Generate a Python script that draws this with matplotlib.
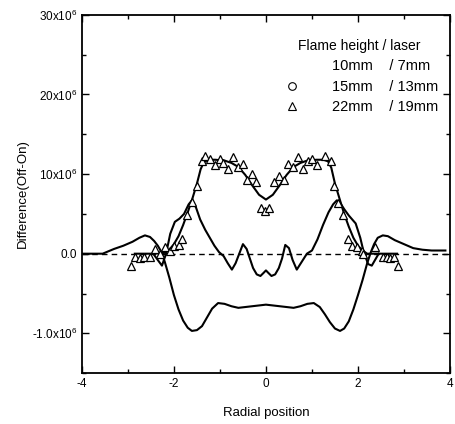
import matplotlib
matplotlib.use("Agg")
import matplotlib.pyplot as plt
from matplotlib.lines import Line2D
from matplotlib.ticker import MultipleLocator

plt.rcParams["font.family"] = ["Liberation Sans Narrow", "Liberation Sans", "DejaVu Sans"]
plt.rcParams["mathtext.fontset"] = "custom"
plt.rcParams["mathtext.rm"] = "Liberation Sans"

# 22mm / 19mm fitted line (x in radial position, y in 1e6)
fit22_x = [-2.85, -2.45, -2.2, -2.1, -2.0, -1.9, -1.8, -1.7, -1.6, -1.5, -1.42, -1.35, -1.25,
           -1.1, -0.9, -0.75, -0.6, -0.45, -0.3, -0.15, 0.0, 0.15, 0.3, 0.45, 0.6, 0.75, 0.9,
           1.1, 1.25, 1.35, 1.42, 1.5, 1.6, 1.7, 1.8, 1.9, 2.0, 2.1, 2.2, 2.45, 2.85]
fit22_y = [0.0, 0.0, 0.1, 0.5, 1.2, 2.2, 3.6, 5.2, 6.9, 8.8, 10.6, 11.5, 11.8,
           11.8, 11.7, 11.4, 10.9, 9.9, 8.6, 7.4, 6.8, 7.4, 8.6, 9.9, 10.9, 11.4, 11.7,
           11.8, 11.8, 11.6, 10.8, 8.8, 6.9, 5.0, 3.4, 2.0, 1.0, 0.4, 0.0, 0.0, 0.0]

# 15mm / 13mm
fit15_x = [-2.45, -2.35, -2.26, -2.17, -2.08, -1.98, -1.88, -1.78, -1.68, -1.61, -1.52, -1.43,
           -1.32, -1.22, -1.12, -1.02, -0.92, -0.83, -0.74, -0.66, -0.58, -0.5, -0.42, -0.35,
           -0.28, -0.2, -0.12, -0.05, 0.0, 0.05, 0.12, 0.2, 0.28, 0.35, 0.42, 0.5, 0.58, 0.67,
           0.78, 0.89, 1.0, 1.12, 1.24, 1.36, 1.46, 1.54, 1.6, 1.7, 1.8, 1.95, 2.05, 2.12,
           2.22, 2.3, 2.38, 2.45]
fit15_y = [0.0, -0.8, -1.5, 0.0, 2.5, 4.0, 4.4, 5.0, 6.2, 6.7, 5.8, 4.3,
           3.0, 2.0, 1.0, 0.2, -0.3, -1.2, -2.0, -1.2, 0.0, 1.2, 0.6, -0.6,
           -1.8, -2.6, -2.8, -2.4, -2.1, -2.4, -2.8, -2.6, -1.8, -0.6, 1.1, 0.7, -0.8, -2.0,
           -1.0, 0.0, 0.4, 1.8, 3.6, 5.2, 6.2, 6.7, 6.5, 5.6, 4.8, 3.8, 2.0, 0.3,
           -1.3, -1.5, -0.7, 0.0]

# 10mm / 7mm
fit10_x = [-4.0, -3.55, -3.3, -3.1, -2.9, -2.75, -2.63, -2.52, -2.43, -2.35, -2.28, -2.2,
           -2.1, -2.0, -1.9, -1.8, -1.7, -1.61, -1.5, -1.39, -1.28, -1.17, -1.04, -0.9,
           -0.75, -0.6, -0.45, -0.3, -0.15, 0.0, 0.15, 0.3, 0.45, 0.6, 0.75, 0.9, 1.04,
           1.17, 1.28, 1.39, 1.5, 1.61, 1.7, 1.8, 1.9, 2.0, 2.1, 2.2, 2.28, 2.35, 2.43,
           2.54, 2.65, 2.8, 3.0, 3.2, 3.4, 3.6, 3.9]
fit10_y = [0.0, 0.0, 0.6, 1.0, 1.5, 2.0, 2.3, 2.1, 1.6, 1.0, 0.3, -1.0,
           -3.0, -5.2, -7.0, -8.4, -9.3, -9.7, -9.6, -9.1, -8.0, -6.9, -6.2, -6.3,
           -6.6, -6.8, -6.7, -6.6, -6.5, -6.4, -6.5, -6.6, -6.7, -6.8, -6.6, -6.3, -6.2,
           -6.7, -7.6, -8.6, -9.4, -9.7, -9.4, -8.5, -7.0, -5.2, -3.3, -1.2, 0.2, 1.2, 2.0,
           2.3, 2.2, 1.7, 1.2, 0.7, 0.5, 0.4, 0.4]

# measured points, 22mm / 19mm
tri_x = [-2.93, -2.85, -2.74, -2.65, -2.52, -2.41, -2.3, -2.2, -2.09, -2.0, -1.89, -1.83,
         -1.72, -1.61, -1.5, -1.39, -1.33, -1.22, -1.11, -1.0, -0.93, -0.83, -0.72, -0.61,
         -0.5, -0.41, -0.3, -0.22, -0.11, -0.02, 0.07, 0.17, 0.28, 0.39, 0.48, 0.59, 0.7,
         0.8, 0.91, 1.0, 1.11, 1.28, 1.41, 1.48, 1.57, 1.67, 1.78, 1.87, 1.98, 2.09, 2.11,
         2.37, 2.54, 2.63, 2.7, 2.78, 2.87]
tri_y = [-1.5, -0.4, -0.6, -0.4, -0.4, 0.6, 0.0, 0.9, 0.4, 1.0, 1.1, 1.8,
         4.8, 6.5, 8.5, 11.7, 12.3, 11.9, 11.2, 11.9, 11.4, 10.7, 12.2, 10.9,
         11.3, 9.2, 10.0, 9.0, 5.8, 5.3, 5.8, 9.0, 9.8, 9.2, 11.3, 10.9, 12.2,
         10.7, 11.6, 11.9, 11.1, 12.3, 11.6, 8.5, 6.4, 4.8, 1.8, 1.0, 0.9, 0.4, 0.0,
         0.8, -0.4, -0.4, -0.6, -0.4, -1.5]

y_ticks = [-10, 0, 10, 20, 30]
y_tick_labels = ["-1.0x10$^6$", "0.0", "10x10$^6$", "20x10$^6$", "30x10$^6$"]
x_ticks = [-4, -2, 0, 2, 4]

fig = plt.figure(figsize=(4.55, 4.24), dpi=100)
ax = fig.add_axes([0.180, 0.120, 0.809, 0.845])

ax.axhline(0, color="black", linestyle=(0, (4, 3)), linewidth=1.0)
ax.plot(fit10_x, fit10_y, color="black", linewidth=1.5)
ax.plot(fit15_x, fit15_y, color="black", linewidth=1.5)
ax.plot(fit22_x, fit22_y, color="black", linewidth=1.5)
ax.plot(tri_x, tri_y, linestyle="none", marker="^", markersize=6,
        markerfacecolor="white", markeredgecolor="black", markeredgewidth=0.9)

ax.set_xlim(-4, 4)
ax.set_ylim(-15, 30)
ax.set_xticks(x_ticks)
ax.set_xticklabels([str(v) for v in x_ticks])
ax.set_yticks(y_ticks)
ax.set_yticklabels(y_tick_labels)
ax.xaxis.set_minor_locator(MultipleLocator(1))
ax.yaxis.set_minor_locator(MultipleLocator(5))
ax.tick_params(which="both", direction="in", top=True, right=True, labelsize=8.5, width=1.0)
ax.tick_params(which="major", length=5)
ax.tick_params(which="minor", length=3)
for s in ax.spines.values():
    s.set_linewidth(1.3)

ax.set_xlabel("Radial position", fontsize=9.5, labelpad=12)
ax.set_ylabel("Difference(Off-On)", fontsize=9.5, labelpad=2)

# legend: first entry has no visible symbol in the original
handles = [
    Line2D([], [], linestyle="none"),
    Line2D([], [], linestyle="none", marker="o", markersize=5.5, markerfacecolor="white",
           markeredgecolor="black", markeredgewidth=0.8),
    Line2D([], [], linestyle="none", marker="^", markersize=5.5, markerfacecolor="white",
           markeredgecolor="black", markeredgewidth=0.8),
]
labels = ["10mm    / 7mm", "15mm    / 13mm", "22mm    / 19mm"]
leg = ax.legend(handles, labels, title="Flame height / laser", loc="upper right",
                bbox_to_anchor=(1.027, 0.995),
                frameon=False, fontsize=10.5, title_fontsize=10, handlelength=1.5,
                handletextpad=2.0, labelspacing=0.45, borderaxespad=1.2, borderpad=0.3)

fig.savefig("out.png", dpi=100)
